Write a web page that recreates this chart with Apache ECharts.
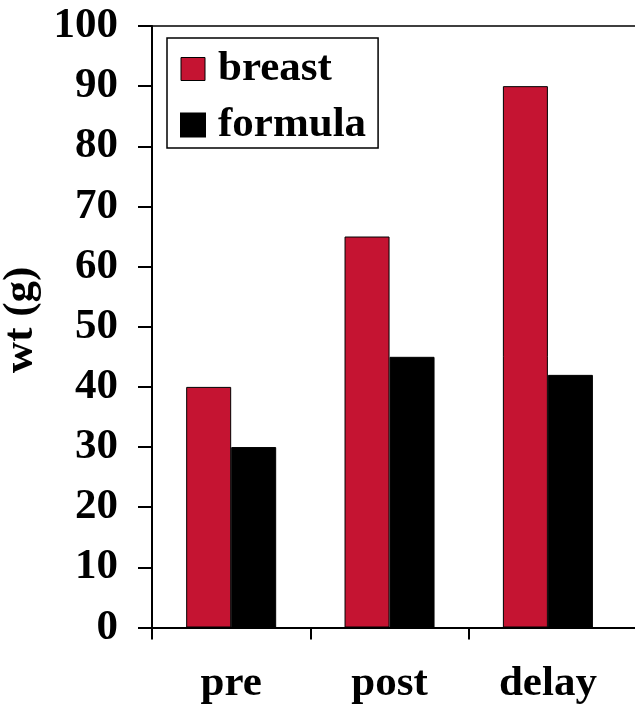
<!DOCTYPE html>
<html>
<head>
<meta charset="utf-8">
<script src="https://cdn.jsdelivr.net/npm/echarts@6/dist/echarts.min.js"></script>
<style>html,body{margin:0;padding:0;background:#fff;}#c{width:635px;height:708px;}</style>
</head>
<body>
<div id="c"></div>
<script>
var categories = ['pre', 'post', 'delay'];
var breast = [40, 65, 90];
var formula = [30, 45, 42];
var yTicks = [0, 10, 20, 30, 40, 50, 60, 70, 80, 90, 100];

var FONT = '"Liberation Serif", "Times New Roman", serif';
var FS = 43;
// categories placed at index + 0.5 on a continuous x scale (category slots of width 1)
var catPos = categories.map(function (c, i) { return i + 0.5; });
var catEdges = categories.map(function (c, i) { return i; });
function pairs(arr) { return arr.map(function (v, i) { return [catPos[i], v]; }); }

var chart = echarts.init(document.getElementById('c'));
chart.setOption({
  backgroundColor: '#fff',
  animation: false,
  grid: { left: 152, right: 0, top: 26, bottom: 80.5, containLabel: false, outerBoundsMode: 'none' },
  legend: {
    orient: 'vertical',
    left: 167, top: 38,
    padding: [9.5, 12, 1.5, 13],
    itemGap: 13,
    itemWidth: 24, itemHeight: 23,
    borderColor: '#000', borderWidth: 1.5,
    backgroundColor: '#fff',
    textStyle: { fontFamily: FONT, fontWeight: 'bold', fontSize: FS, color: '#000', padding: [0, 0, 0, 8] },
    data: [
      { name: 'breast', icon: 'rect', itemStyle: { borderColor: '#000', borderWidth: 1 } },
      { name: 'formula', icon: 'rect' }
    ]
  },
  xAxis: [{
    type: 'value',
    min: 0, max: 3.05,
    splitLine: { show: false },
    axisLine: { lineStyle: { color: '#000', width: 2 } },
    axisTick: { show: true, length: 12, customValues: catEdges, lineStyle: { color: '#000', width: 2 } },
    axisLabel: {
      fontFamily: FONT, fontWeight: 'bold', fontSize: FS, color: '#000', margin: 35,
      customValues: catPos,
      formatter: function (v) { return categories[Math.round(v - 0.5)] || ''; }
    }
  }, {
    type: 'value',
    position: 'top',
    min: 0, max: 3.05,
    splitLine: { show: false },
    axisLine: { show: true, lineStyle: { color: '#000', width: 1.5 } },
    axisTick: { show: false },
    axisLabel: { show: false }
  }],
  yAxis: {
    type: 'value',
    min: 0, max: 100, interval: 10,
    name: 'wt (g)',
    nameLocation: 'middle',
    nameRotate: 90,
    nameGap: 97,
    nameTextStyle: { fontFamily: FONT, fontWeight: 'bold', fontSize: FS, color: '#000', padding: [0, 0, 0, 14] },
    axisLine: { show: true, lineStyle: { color: '#000', width: 2 } },
    axisTick: { show: true, length: 14, lineStyle: { color: '#000', width: 2 } },
    splitLine: { show: false },
    axisLabel: {
      fontFamily: FONT, fontWeight: 'bold', fontSize: FS, color: '#000', margin: 34,
      formatter: function (v) { return yTicks.indexOf(v) >= 0 ? String(v) : ''; }
    }
  },
  series: [{
    name: 'breast', type: 'bar', data: pairs(breast),
    barWidth: 45, barGap: '0%',
    itemStyle: { color: '#C51432', borderColor: '#000', borderWidth: 1 }
  }, {
    name: 'formula', type: 'bar', data: pairs(formula),
    barWidth: 45, barGap: '0%',
    itemStyle: { color: '#000', borderColor: '#000', borderWidth: 1 }
  }]
});
</script>
</body>
</html>
